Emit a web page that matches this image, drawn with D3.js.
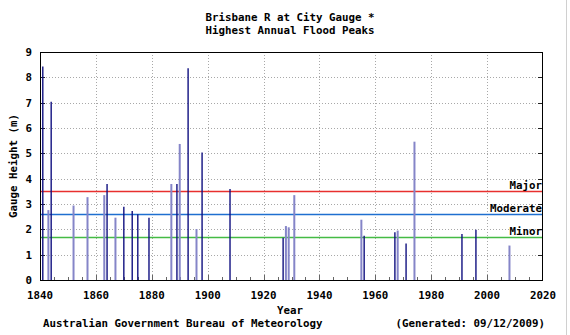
<!DOCTYPE html>
<html><head><meta charset="utf-8">
<script src="https://cdn.jsdelivr.net/npm/d3@7"></script>
<style>
body{margin:0;background:#fff;}
text{font-family:"DejaVu Sans Mono","Liberation Mono",monospace;font-weight:bold;font-size:10.8px;fill:#000;}
</style></head>
<body>
<script>
// Data
const darkYears  = [1841,1844,1864,1870,1873,1875,1879,1889,1893,1898,1908,1927,1956,1967,1971,1991,1996];
const darkValues = [8.43,7.04,3.79,2.89,2.72,2.60,2.46,3.79,8.36,5.03,3.59,1.67,1.75,1.88,1.44,1.82,1.98];
const lightYears  = [1843,1852,1857,1863,1867,1887,1890,1896,1928,1929,1931,1955,1968,1974,2008];
const lightValues = [2.76,2.94,3.27,3.35,2.46,3.79,5.37,2.01,2.13,2.08,3.35,2.38,1.95,5.46,1.36];
const levelNames  = ["Major","Moderate","Minor"];
const levelValues = [3.5,2.6,1.7];
const levelColors = ["#e8302e","#1f6fd0","#44bb44"];
const xTicks = [1840,1860,1880,1900,1920,1940,1960,1980,2000,2020];
const yTicks = [0,1,2,3,4,5,6,7,8,9];

const W=570,H=335, L=40, R=543, T=52, B=280;
const svg=d3.select("body").append("svg").attr("width",W).attr("height",H);
svg.append("rect").attr("width",W).attr("height",H).attr("fill","#fff");
svg.append("line").attr("x1",566.5).attr("x2",566.5).attr("y1",0).attr("y2",H).attr("stroke","#d0d0d0");

const x=d3.scaleLinear().domain([1840,2020]).range([L,R]);
const y=d3.scaleLinear().domain([0,9]).range([B,T]);
const py=d=>Math.round(y(d))+0.5, px=d=>Math.round(x(d))+0.5;

// grid
const g=svg.append("g").attr("class","grid");
g.selectAll("line.gy").data(yTicks.slice(1,-1)).enter().append("line").attr("class","gy")
 .attr("x1",L).attr("x2",R).attr("y1",py).attr("y2",py)
 .attr("stroke","#a8a8a8").attr("stroke-dasharray","1,2").attr("shape-rendering","crispEdges");
g.selectAll("line.gx").data(xTicks.slice(1,-1)).enter().append("line").attr("class","gx")
 .attr("y1",T).attr("y2",B).attr("x1",px).attr("x2",px)
 .attr("stroke","#a8a8a8").attr("stroke-dasharray","1,2").attr("shape-rendering","crispEdges");

// minor ticks every 5 years
const minor=d3.range(1845,2020,5);
g.selectAll("line.mt").data(minor).enter().append("line").attr("class","mt")
 .attr("x1",px).attr("x2",px)
 .attr("y1",B).attr("y2",d=>B-(d%20===0?5:3)).attr("stroke","#666");
// y ticks left and right
g.selectAll("line.ytl").data(yTicks).enter().append("line").attr("class","ytl")
 .attr("x1",L).attr("x2",L+5).attr("y1",py).attr("y2",py).attr("stroke","#222");
g.selectAll("line.ytr").data(yTicks).enter().append("line").attr("class","ytr")
 .attr("x1",R-5).attr("x2",R).attr("y1",py).attr("y2",py).attr("stroke","#222");

// level lines
const lv=svg.append("g").attr("class","levels");
levelValues.forEach((v,i)=>{
  lv.append("line").attr("x1",L).attr("x2",R).attr("y1",py(v)).attr("y2",py(v))
    .style("stroke",levelColors[i]).style("stroke-width","1.5px");
  lv.append("text").attr("x",R-1).attr("y",y(v)-2).attr("text-anchor","end").text(levelNames[i]);
});

// bars
svg.selectAll("line.lb").data(lightYears).enter().append("line").attr("class","lb")
 .attr("x1",d=>x(d)).attr("x2",d=>x(d)).attr("y1",B).attr("y2",(d,i)=>y(lightValues[i]))
 .attr("stroke","#8585c8").attr("stroke-width",2);
svg.selectAll("line.db").data(darkYears).enter().append("line").attr("class","db")
 .attr("x1",d=>x(d)).attr("x2",d=>x(d)).attr("y1",B).attr("y2",(d,i)=>y(darkValues[i]))
 .attr("stroke","#101080").attr("stroke-width",1.4);

// frame
svg.append("rect").attr("x",L+0.5).attr("y",T+0.5).attr("width",R-L-1).attr("height",B-T)
 .attr("fill","none").attr("stroke","#000");

// axes labels
svg.selectAll("text.xl").data(xTicks).enter().append("text").attr("class","xl")
 .attr("x",d=>x(d)).attr("y",299).attr("text-anchor","middle").text(d=>d);
svg.selectAll("text.yl").data(yTicks).enter().append("text").attr("class","yl")
 .attr("x",32).attr("y",d=>y(d)+4).attr("text-anchor","end").text(d=>d);

svg.append("text").attr("x",290).attr("y",21).attr("text-anchor","middle").text("Brisbane R at City Gauge *");
svg.append("text").attr("x",290).attr("y",34).attr("text-anchor","middle").text("Highest Annual Flood Peaks");
svg.append("text").attr("x",290).attr("y",314).attr("text-anchor","middle").text("Year");
svg.append("text").attr("transform","translate(17,166) rotate(-90)").attr("text-anchor","middle").text("Gauge Height (m)");
svg.append("text").attr("x",43).attr("y",327).text("Australian Government Bureau of Meteorology");
svg.append("text").attr("x",545).attr("y",327).attr("text-anchor","end").text("(Generated: 09/12/2009)");
</script>
</body></html>
